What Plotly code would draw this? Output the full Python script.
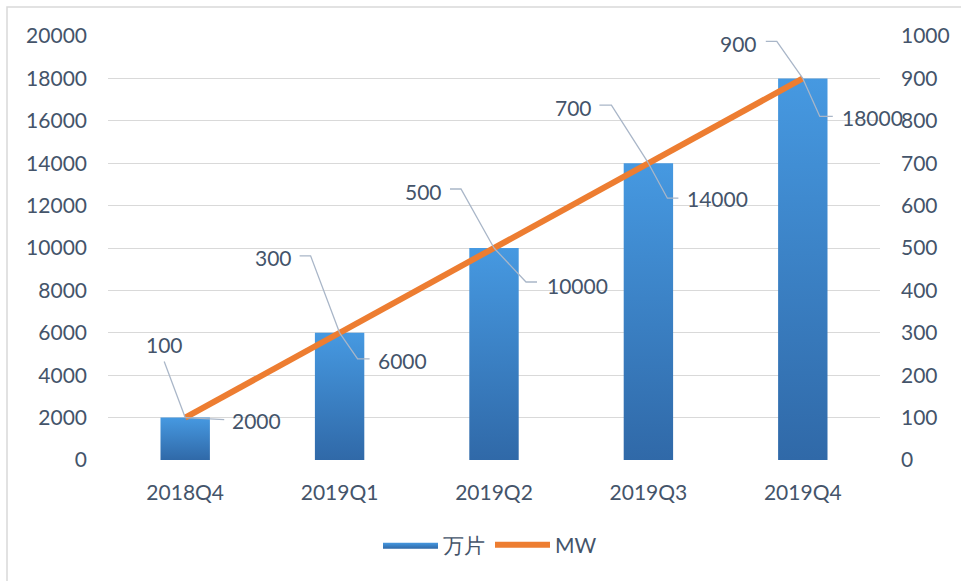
import plotly.graph_objects as go

categories = ["2018Q4", "2019Q1", "2019Q2", "2019Q3", "2019Q4"]
pieces = [2000, 6000, 10000, 14000, 18000]   # 万片 (left axis)
mw = [100, 300, 500, 700, 900]               # MW (right axis)
y_ticks = list(range(0, 20001, 2000))
y2_ticks = list(range(0, 1001, 100))

# leader-line / label offsets in screen pixels (dx right, dy down)
mw_label_off = [(-21, -73), (-66, -75), (-71, -57), (-75, -56), (-64, -35)]
mw_leader = [[(-21, -56)], [(-40, -77), (-29, -77)], [(-44, -59), (-33, -59)],
             [(-49, -58), (-37, -58)], [(-37, -37), (-26, -37)]]
pc_label_off = [(71, 3), (63, 28), (83, 37), (69, 35), (70, 39)]
pc_leader = [[(39, 2)], [(18, 26), (30, 26)], [(32, 34), (43, 34)],
             [(19, 35), (30, 35)], [(17, 38), (30, 38)]]

W, H = 961, 581
ML, MR, MT, MB = 108, 81, 36, 121
PW, PH = W - ML - MR, H - MT - MB

TXT = "#44546A"
FONT = "Lato"
FS = 21
BAR_HALF = 0.16

fig = go.Figure()

for i, v in enumerate(pieces):
    fig.add_trace(go.Scatter(
        x=[i - BAR_HALF, i + BAR_HALF, i + BAR_HALF, i - BAR_HALF, i - BAR_HALF],
        y=[0, 0, v, v, 0],
        mode="lines", line=dict(width=0, color="#3C85CA"),
        fill="toself",
        fillgradient=dict(type="vertical",
                          colorscale=[[0, "#3069A8"], [1, "#4699E1"]]),
        name="万片", legendgroup="pieces", showlegend=(i == 0),
        hoverinfo="skip",
    ))

fig.add_trace(go.Scatter(
    x=list(range(len(categories))), y=mw, yaxis="y2",
    mode="lines", line=dict(color="#ED7D31", width=6),
    name="MW",
))

shapes = []
# outer chart border
shapes.append(dict(type="rect", xref="paper", yref="paper",
                   x0=(7 - ML) / PW, x1=(W + 20 - ML) / PW,
                   y0=-(H + 20 - MT - PH) / PH, y1=(MT + PH - 7) / PH,
                   line=dict(color="#D9D9D9", width=1.5), layer="below"))

annotations = []
LEAD = "#A9B6C8"
for i in range(len(categories)):
    pts = [(0, 0)] + list(reversed(mw_leader[i]))
    path = "M " + " L ".join(f"{x} {-y}" for x, y in reversed(pts))
    shapes.append(dict(type="path", xref="x", yref="y2", xsizemode="pixel",
                       ysizemode="pixel", xanchor=i, yanchor=mw[i], path=path,
                       line=dict(color=LEAD, width=1.3)))
    dx, dy = mw_label_off[i]
    annotations.append(dict(x=i, y=mw[i], xref="x", yref="y2", text=str(mw[i]),
                            showarrow=False, xshift=dx, yshift=-dy,
                            font=dict(family=FONT, size=FS, color=TXT)))
    pts = [(0, 0)] + pc_leader[i]
    path = "M " + " L ".join(f"{x} {-y}" for x, y in pts)
    shapes.append(dict(type="path", xref="x", yref="y", xsizemode="pixel",
                       ysizemode="pixel", xanchor=i, yanchor=pieces[i], path=path,
                       line=dict(color=LEAD, width=1.3)))
    dx, dy = pc_label_off[i]
    annotations.append(dict(x=i, y=pieces[i], xref="x", yref="y", text=str(pieces[i]),
                            showarrow=False, xshift=dx, yshift=-dy,
                            font=dict(family=FONT, size=FS, color=TXT)))

fig.update_layout(
    width=W, height=H,
    margin=dict(l=ML, r=MR, t=MT, b=MB, pad=0),
    paper_bgcolor="white", plot_bgcolor="white",
    font=dict(family=FONT, size=FS, color=TXT),
    xaxis=dict(range=[-0.5, len(categories) - 0.5], tickvals=list(range(len(categories))),
               ticktext=categories, showgrid=False, zeroline=False, showline=False,
               ticklabelstandoff=18, fixedrange=True),
    yaxis=dict(range=[0, 20000], tickvals=y_ticks, ticktext=[str(v) for v in y_ticks],
               showgrid=True, gridcolor="#D9D9D9",
               gridwidth=1.3, zeroline=False, showline=False, ticklabelstandoff=20),
    yaxis2=dict(range=[0, 1000], tickvals=y2_ticks, ticktext=[str(v) for v in y2_ticks],
                overlaying="y", side="right",
                showgrid=False, zeroline=False, showline=False, ticklabelstandoff=20),
    legend=dict(orientation="h", x=(490 - ML) / PW, xanchor="center",
                y=-(545 - MT - PH) / PH, yanchor="middle", itemwidth=55,
                font=dict(family=FONT, size=FS, color=TXT)),
    shapes=shapes, annotations=annotations,
    showlegend=True,
)

fig.write_html("out.html")
